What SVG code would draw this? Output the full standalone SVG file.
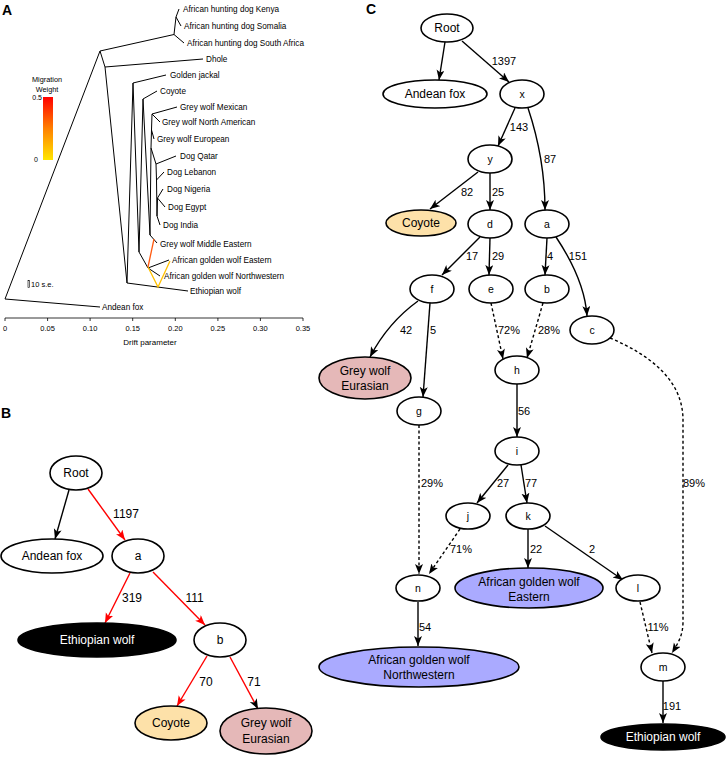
<svg xmlns="http://www.w3.org/2000/svg" width="726" height="757" viewBox="0 0 726 757">
<defs>
<marker id="ab" markerUnits="userSpaceOnUse" markerWidth="11" markerHeight="9" refX="10" refY="4" orient="auto"><path d="M0,0 L10,4 L0,8 L2.5,4 z" fill="#000"/></marker>
<marker id="ar" markerUnits="userSpaceOnUse" markerWidth="11" markerHeight="9" refX="10" refY="4" orient="auto"><path d="M0,0 L10,4 L0,8 L2.5,4 z" fill="#f00"/></marker>
<linearGradient id="mw" x1="0" y1="0" x2="0" y2="1"><stop offset="0" stop-color="#ff0000"/><stop offset="0.5" stop-color="#ff8000"/><stop offset="1" stop-color="#ffe600"/></linearGradient>
</defs>
<style>
text{font-family:"Liberation Sans",Arial,sans-serif;fill:#000}
.pl{font-weight:bold;font-size:14px}
.lf{font-size:8.2px}
.tk{font-size:7.5px;text-anchor:middle}
.tr{fill:none;stroke:#000;stroke-width:1}
.nd{fill:#fff;stroke:#000;stroke-width:1.6}
.bk{fill:#000;stroke:#000;stroke-width:1.6}
.cy{fill:#fde1a9;stroke:#000;stroke-width:1.6}
.gw{fill:#e5b8b8;stroke:#000;stroke-width:1.6}
.ag{fill:#aaaaff;stroke:#000;stroke-width:1.6}
.nt{font-size:12px;text-anchor:middle;dominant-baseline:central}
.ns{font-size:10.5px;text-anchor:middle;dominant-baseline:central}
.wt{fill:#fff}
.el{font-size:11px;text-anchor:middle;dominant-baseline:central}
.eb{font-size:12px;text-anchor:middle;dominant-baseline:central}
.e{fill:none;stroke:#000;stroke-width:1.4}
.r{fill:none;stroke:#f00;stroke-width:1.4}
.d{stroke-dasharray:3,2.5}
</style>
<!-- Panel A -->
<g id="panelA">
<text class="pl" x="2" y="15">A</text>
<g id="treeA" class="tr">
<path d="M5,299 L100,307 M5,299 L100,51 M100,51 L174,34.5 M174,34.5 L176,17 M176,17 L179,9 M176,17 L181,26 M174,34.5 L184,43 M100,51 L105,67 M105,67 L203,59 M105,67 L127,283 M127,283 L188,291 M127,283 L133,83 M133,83 L166,75 M133,83 L139,252 M139,252 L148,268 M148,268 L169,260 M148,268 L160,276 M139,252 L143,99 M143,99 L157,91 M143,99 L150,235 M150,235 L157,243 M150,235 L151,148 M151,148 L151.5,130 M151.5,130 L154,139 M151.5,130 L152,114 M152,114 L177,107 M152,114 L160,122 M151,148 L156,164 M156,164 L176,156 M156,164 L156.5,180 M156.5,180 L164,172 M156.5,180 L157,216 M157,216 L160,225 M157,216 L157.5,198 M157.5,198 L163,189 M157.5,198 L165,207"/>
</g>
<g id="migA" fill="none" stroke-width="1.3">
<path d="M154,239 L148,267" stroke="#ff5a10"/>
<path d="M148,267 L158,287 L170,261" stroke="#ffc000"/>
</g>
<g id="leafA" class="lf">
<text x="183" y="12">African hunting dog Kenya</text>
<text x="184" y="29">African hunting dog Somalia</text>
<text x="187" y="46">African hunting dog South Africa</text>
<text x="206" y="62">Dhole</text>
<text x="170" y="78">Golden jackal</text>
<text x="160" y="94">Coyote</text>
<text x="180" y="110">Grey wolf Mexican</text>
<text x="162" y="125">Grey wolf North American</text>
<text x="157" y="142">Grey wolf European</text>
<text x="180" y="159">Dog Qatar</text>
<text x="167" y="175">Dog Lebanon</text>
<text x="167" y="192">Dog Nigeria</text>
<text x="168" y="210">Dog Egypt</text>
<text x="163" y="228">Dog India</text>
<text x="160" y="247">Grey wolf Middle Eastern</text>
<text x="172" y="263">African golden wolf Eastern</text>
<text x="164" y="279">African golden wolf Northwestern</text>
<text x="190" y="294">Ethiopian wolf</text>
<text x="102" y="310">Andean fox</text>
</g>
<g id="legendA">
<text x="47" y="82" font-size="7.3" text-anchor="middle">Migration</text>
<text x="47" y="92" font-size="7.3" text-anchor="middle">Weight</text>
<rect x="43" y="97" width="10" height="63" fill="url(#mw)"/>
<text x="42" y="100" font-size="7" text-anchor="end">0.5</text>
<text x="38" y="162" font-size="7" text-anchor="end">0</text>
<rect x="28" y="280.5" width="1.6" height="7" fill="none" stroke="#000" stroke-width="0.6"/>
<text x="31" y="287" font-size="7.5">10 s.e.</text>
</g>
<g id="axisA">
<path d="M5,318 L303,318 M5,318 L5,321 M47.6,318 L47.6,321 M90.1,318 L90.1,321 M132.7,318 L132.7,321 M175.3,318 L175.3,321 M217.9,318 L217.9,321 M260.4,318 L260.4,321 M303,318 L303,321" stroke="#000" stroke-width="0.8" fill="none"/>
<text class="tk" x="5" y="331">0</text>
<text class="tk" x="47.6" y="331">0.05</text>
<text class="tk" x="90.1" y="331">0.10</text>
<text class="tk" x="132.7" y="331">0.15</text>
<text class="tk" x="175.3" y="331">0.20</text>
<text class="tk" x="217.9" y="331">0.25</text>
<text class="tk" x="260.4" y="331">0.30</text>
<text class="tk" x="303" y="331">0.35</text>
<text x="150" y="345" font-size="8" text-anchor="middle">Drift parameter</text>
</g>
</g>
<!-- Panel B -->
<text class="pl" x="1" y="418">B</text>
<g id="edgesB">
<path class="e" d="M69,490 L55,539" marker-end="url(#ab)"/>
<path class="r" d="M88,489 L125,540" marker-end="url(#ar)"/>
<path class="r" d="M130,573 L105,623" marker-end="url(#ar)"/>
<path class="r" d="M153,572 L205,625" marker-end="url(#ar)"/>
<path class="r" d="M207,656 L177,706" marker-end="url(#ar)"/>
<path class="r" d="M230,657 L258,709" marker-end="url(#ab)"/>
<text class="eb" x="126" y="514">1197</text>
<text class="eb" x="132" y="598">319</text>
<text class="eb" x="194.5" y="598">111</text>
<text class="eb" x="206" y="682">70</text>
<text class="eb" x="254" y="682">71</text>
</g>
<g id="B_root"><ellipse class="nd" cx="76" cy="473" rx="26" ry="17"/><text class="nt" x="76" y="473">Root</text></g>
<g id="B_andean"><ellipse class="nd" cx="52" cy="556" rx="51" ry="17"/><text class="nt" x="52" y="556">Andean fox</text></g>
<g id="B_a"><ellipse class="nd" cx="138" cy="556" rx="26" ry="17"/><text class="nt" x="138" y="556">a</text></g>
<g id="B_ethiopian"><ellipse class="bk" cx="97" cy="640" rx="79" ry="17"/><text class="nt wt" x="97" y="640">Ethiopian wolf</text></g>
<g id="B_b"><ellipse class="nd" cx="220" cy="640" rx="26" ry="17"/><text class="nt" x="220" y="640">b</text></g>
<g id="B_coyote"><ellipse class="cy" cx="171" cy="723" rx="36" ry="17"/><text class="nt" x="171" y="723">Coyote</text></g>
<g id="B_greywolf"><ellipse class="gw" cx="266" cy="731" rx="46" ry="23"/><text class="nt" x="266" y="723">Grey wolf</text><text class="nt" x="266" y="739">Eurasian</text></g>
<!-- Panel C -->
<text class="pl" x="366" y="14">C</text>
<g id="edgesC">
<path class="e" d="M445,42 L439,80" marker-end="url(#ab)"/>
<path class="e" d="M462,41 L509,82" marker-end="url(#ab)"/>
<path class="e" d="M515,108 L498,146" marker-end="url(#ab)"/>
<path class="e" d="M528,108 C537,135 545,170 545,210" marker-end="url(#ab)"/>
<path class="e" d="M478,172 L430,209" marker-end="url(#ab)"/>
<path class="e" d="M490,173 L490,210" marker-end="url(#ab)"/>
<path class="e" d="M480,237 L442,275" marker-end="url(#ab)"/>
<path class="e" d="M490,238 L489,275" marker-end="url(#ab)"/>
<path class="e" d="M547,238 L545,275" marker-end="url(#ab)"/>
<path class="e" d="M556,237 C570,258 585,285 587,316" marker-end="url(#ab)"/>
<path class="e" d="M418,301 C400,314 382,334 370,357" marker-end="url(#ab)"/>
<path class="e" d="M430,303 L423,397" marker-end="url(#ab)"/>
<path class="e d" d="M491,303 L503,359" marker-end="url(#ab)"/>
<path class="e d" d="M543,303 L527,358" marker-end="url(#ab)"/>
<path class="e d" d="M610,338 C650,355 683,380 683,420 L683,622 C683,636 677,645 672,653" marker-end="url(#ab)"/>
<path class="e" d="M517,384 L517,437" marker-end="url(#ab)"/>
<path class="e d" d="M419,425 L419,574" marker-end="url(#ab)"/>
<path class="e" d="M508,465 L477,503" marker-end="url(#ab)"/>
<path class="e" d="M521,465 L527,503" marker-end="url(#ab)"/>
<path class="e d" d="M460,529 L429,574" marker-end="url(#ab)"/>
<path class="e" d="M528,529 L528,568" marker-end="url(#ab)"/>
<path class="e" d="M545,526 L623,580" marker-end="url(#ab)"/>
<path class="e d" d="M640,602 L652,653" marker-end="url(#ab)"/>
<path class="e" d="M418,602 L418,646" marker-end="url(#ab)"/>
<path class="e" d="M663,681 L663,723" marker-end="url(#ab)"/>
<text class="el" x="504" y="61">1397</text>
<text class="el" x="519" y="127">143</text>
<text class="el" x="550" y="159">87</text>
<text class="el" x="467" y="192">82</text>
<text class="el" x="498" y="192">25</text>
<text class="el" x="472" y="256">17</text>
<text class="el" x="498" y="256">29</text>
<text class="el" x="550" y="256">4</text>
<text class="el" x="578" y="256">151</text>
<text class="el" x="406" y="330">42</text>
<text class="el" x="433" y="330">5</text>
<text class="el" x="509" y="330">72%</text>
<text class="el" x="549" y="330">28%</text>
<text class="el" x="524" y="411">56</text>
<text class="el" x="432" y="483">29%</text>
<text class="el" x="503" y="483">27</text>
<text class="el" x="531" y="483">77</text>
<text class="el" x="694" y="483">89%</text>
<text class="el" x="461" y="549">71%</text>
<text class="el" x="536" y="549">22</text>
<text class="el" x="592" y="549">2</text>
<text class="el" x="658" y="627">11%</text>
<text class="el" x="425" y="627">54</text>
<text class="el" x="672" y="706">191</text>
</g>
<g id="C_root"><ellipse class="nd" cx="447" cy="28" rx="26" ry="14"/><text class="nt" x="447" y="28">Root</text></g>
<g id="C_andean"><ellipse class="nd" cx="435" cy="94" rx="52" ry="14"/><text class="nt" x="435" y="94">Andean fox</text></g>
<g id="C_x"><ellipse class="nd" cx="522" cy="94" rx="22" ry="14"/><text class="ns" x="522" y="94">x</text></g>
<g id="C_y"><ellipse class="nd" cx="490" cy="159" rx="22" ry="14"/><text class="ns" x="490" y="159">y</text></g>
<g id="C_coyote"><ellipse class="cy" cx="421" cy="223" rx="35" ry="13"/><text class="nt" x="421" y="223">Coyote</text></g>
<g id="C_d"><ellipse class="nd" cx="490" cy="224" rx="22" ry="14"/><text class="ns" x="490" y="224">d</text></g>
<g id="C_a"><ellipse class="nd" cx="547" cy="224" rx="22" ry="14"/><text class="ns" x="547" y="224">a</text></g>
<g id="C_f"><ellipse class="nd" cx="432" cy="289" rx="22" ry="14"/><text class="ns" x="432" y="289">f</text></g>
<g id="C_e"><ellipse class="nd" cx="491" cy="289" rx="22" ry="14"/><text class="ns" x="491" y="289">e</text></g>
<g id="C_b"><ellipse class="nd" cx="547" cy="289" rx="22" ry="14"/><text class="ns" x="547" y="289">b</text></g>
<g id="C_c"><ellipse class="nd" cx="592" cy="330" rx="22" ry="14"/><text class="ns" x="592" y="330">c</text></g>
<g id="C_greywolf"><ellipse class="gw" cx="365" cy="378" rx="46" ry="21"/><text class="nt" x="365" y="371">Grey wolf</text><text class="nt" x="365" y="386">Eurasian</text></g>
<g id="C_h"><ellipse class="nd" cx="517" cy="370" rx="22" ry="14"/><text class="ns" x="517" y="370">h</text></g>
<g id="C_g"><ellipse class="nd" cx="419" cy="411" rx="22" ry="14"/><text class="ns" x="419" y="411">g</text></g>
<g id="C_i"><ellipse class="nd" cx="517" cy="451" rx="22" ry="14"/><text class="ns" x="517" y="451">i</text></g>
<g id="C_j"><ellipse class="nd" cx="468" cy="516" rx="22" ry="13"/><text class="ns" x="468" y="516">j</text></g>
<g id="C_k"><ellipse class="nd" cx="528" cy="516" rx="22" ry="13"/><text class="ns" x="528" y="516">k</text></g>
<g id="C_n"><ellipse class="nd" cx="418" cy="588" rx="22" ry="13"/><text class="ns" x="418" y="588">n</text></g>
<g id="C_agwe"><ellipse class="ag" cx="529" cy="588" rx="74" ry="20"/><text class="nt" x="529" y="582">African golden wolf</text><text class="nt" x="529" y="597">Eastern</text></g>
<g id="C_l"><ellipse class="nd" cx="638" cy="588" rx="22" ry="13"/><text class="ns" x="638" y="588">l</text></g>
<g id="C_agwnw"><ellipse class="ag" cx="419" cy="667" rx="100" ry="20"/><text class="nt" x="419" y="660">African golden wolf</text><text class="nt" x="419" y="675">Northwestern</text></g>
<g id="C_m"><ellipse class="nd" cx="663" cy="667" rx="22" ry="14"/><text class="ns" x="663" y="667">m</text></g>
<g id="C_ethiopian"><ellipse class="bk" cx="663" cy="737" rx="62" ry="13"/><text class="nt wt" x="663" y="737">Ethiopian wolf</text></g>
</svg>
